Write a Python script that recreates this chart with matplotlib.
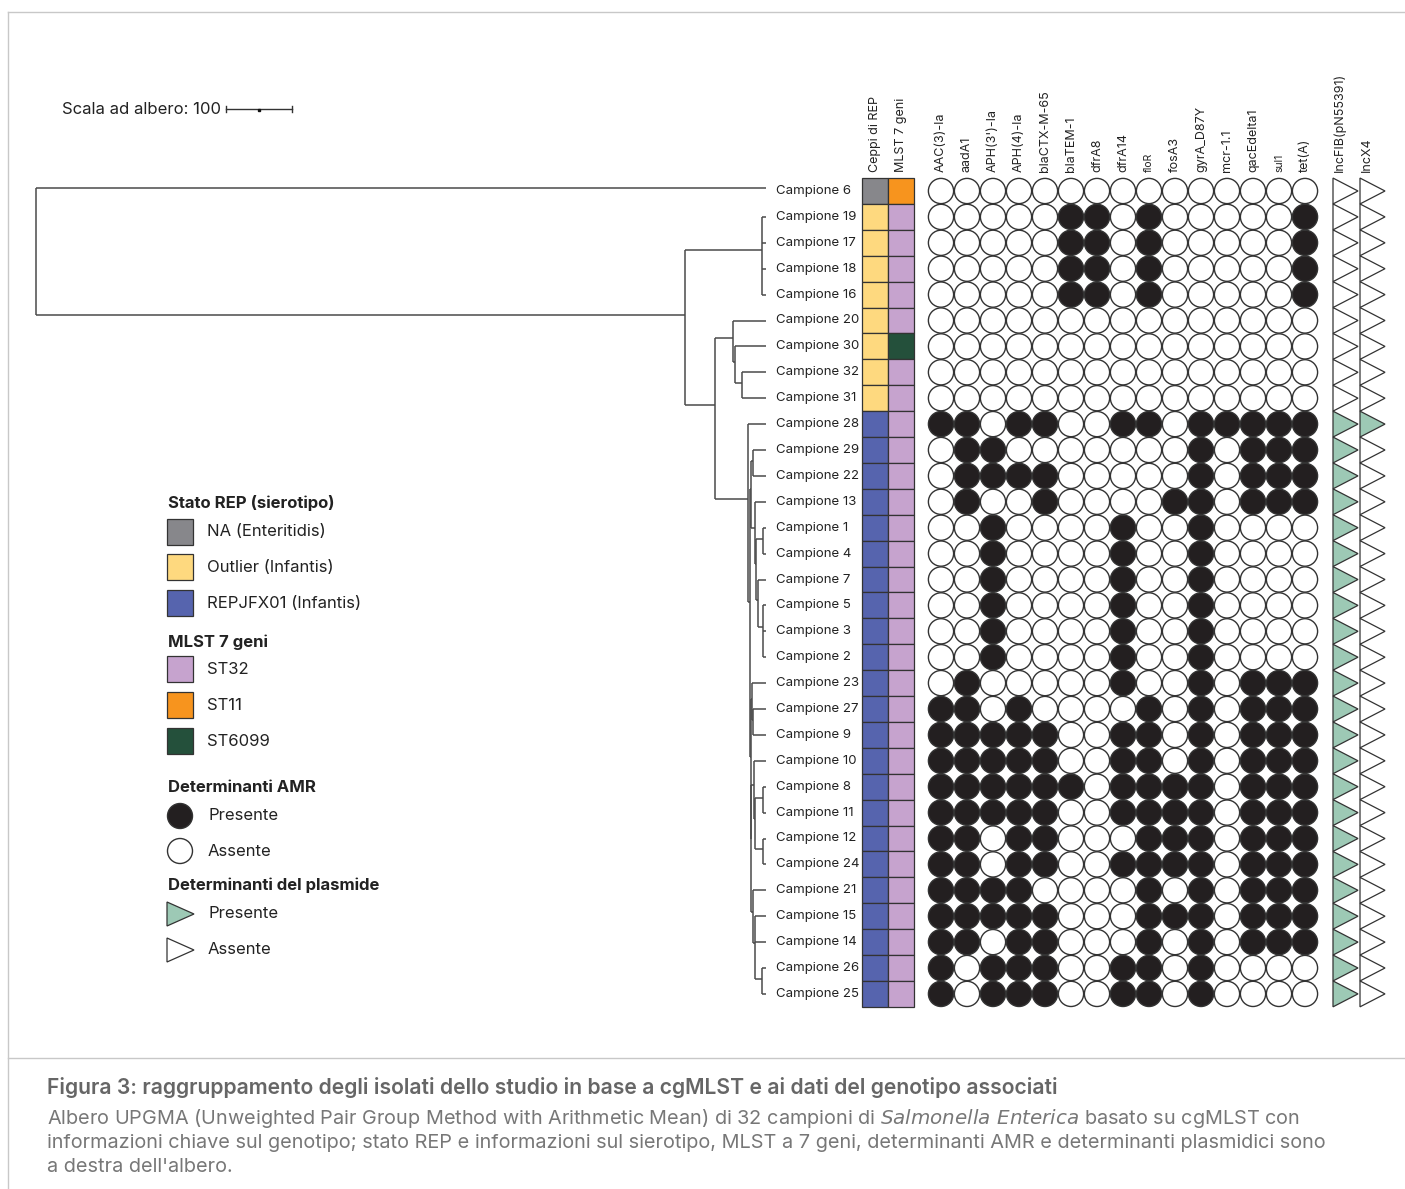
import matplotlib
matplotlib.use('Agg')
import matplotlib.pyplot as plt
from matplotlib.patches import Rectangle, Circle, Polygon

plt.rcParams['font.family'] = ['Inter', 'DejaVu Sans']

# Samples in tree order
samples = ['6', '19', '17', '18', '16', '20', '30', '32', '31', '28', '29', '22', '13',
           '1', '4', '7', '5', '3', '2', '23', '27', '9', '10', '8', '11', '12', '24',
           '21', '15', '14', '26', '25']

# REP status / serotype
rep = ['NA'] + ['Outlier'] * 8 + ['REPJFX01'] * 23
# MLST 7 genes
mlst = ['ST11', 'ST32', 'ST32', 'ST32', 'ST32', 'ST32', 'ST6099'] + ['ST32'] * 25

amr_genes = ['AAC(3)-Ia', 'aadA1', "APH(3')-Ia", 'APH(4)-Ia', 'blaCTX-M-65', 'blaTEM-1',
             'dfrA8', 'dfrA14', 'floR', 'fosA3', 'gyrA_D87Y', 'mcr-1.1', 'qacEdelta1',
             'sul1', 'tet(A)']
# 1 = present, 0 = absent (one string per sample, same order as samples)
amr = ['000000000000000',
       '000001101000001', '000001101000001', '000001101000001', '000001101000001',
       '000000000000000', '000000000000000', '000000000000000', '000000000000000',
       '110110011011111', '011000000010111', '011110000010111', '010010000110111',
       '001000010010000', '001000010010000', '001000010010000', '001000010010000',
       '001000010010000', '001000010010000',
       '010000010010111', '110100001010111', '111110011010111', '111110011010111',
       '111111011110111', '111110011110111', '110110001110111', '110110011110111',
       '111100001010111', '111110001110111', '110110001010111',
       '101110011010000', '101110011010000']

plasmids = ['IncFIB(pN55391)', 'IncX4']
incfib = [0] * 9 + [1] * 23
incx4 = [0] * 9 + [1] + [0] * 22

# UPGMA tree: [height, children...], height in tree units
tree = [1106, '6',
        [123,
         [6, '19', '17', '18', '16'],
         [77,
          [50, '20', [47, '30', [36, '32', '31']]],
          [27, '28',
           [24,
            [22, [20, '29', '22'],
             [17, '13', [15, [4, '1', '4'], [12, '7', [4, '5', '3', '2']]]]],
            [23,
             [21, '23', [19, '27', '9']],
             [22,
              [18, '10', [16, [5, '8', '11'], [5, '12', '24']]],
              [19, '21', [16, '15', '14', [6, '26', '25']]]]]]]]]]
scale_len = 100

rep_colors = {'NA': '#87878B', 'Outlier': '#FED97F', 'REPJFX01': '#5664AE'}
rep_labels = {'NA': 'NA (Enteritidis)', 'Outlier': 'Outlier (Infantis)', 'REPJFX01': 'REPJFX01 (Infantis)'}
mlst_colors = {'ST32': '#C6A3CE', 'ST11': '#F7941E', 'ST6099': '#24503B'}
dark = '#231F20'
green = '#9DC9B5'

fig = plt.figure(figsize=(14.05, 11.89), dpi=100)
ax = fig.add_axes([0, 0, 1, 1])
ax.set_xlim(0, 1405)
ax.set_ylim(1189, 0)
ax.axis('off')

# layout
row0, drow = 191, 25.9
tip_x = 766
px_unit = 0.66
col0, dcol = 941, 26


def ry(i):
    return row0 + i * drow


def tx(h):
    return tip_x - h * px_unit


# frame
fc = '#C8C8C8'
ax.plot([8, 1405], [12, 12], color=fc, lw=1)
ax.plot([8, 8], [12, 1189], color=fc, lw=1)
ax.plot([8, 1405], [1058, 1058], color=fc, lw=1)

# tree
tc = '#4a4a4a'


def draw(node):
    if isinstance(node, str):
        i = samples.index(node)
        return (ry(i) if i else ry(0) - 3), tx(0)
    h = node[0]
    pts = [draw(c) for c in node[1:]]
    x = tx(h)
    for y, cx in pts:
        ax.plot([x, cx], [y, y], color=tc, lw=1.1, solid_capstyle='butt')
    ys = [p[0] for p in pts]
    ax.plot([x, x], [min(ys), max(ys)], color=tc, lw=1.1, solid_capstyle='butt')
    # pull the node a bit towards the upper child, like the original layout
    return min(ys) + (max(ys) - min(ys)) * 0.42, x


draw(tree)

# sample labels
for i, s in enumerate(samples):
    ax.text(776, ry(i), 'Campione ' + s, fontsize=9.5, color='#222222', ha='left', va='center')

# REP and MLST strips
for i in range(len(samples)):
    ax.add_patch(Rectangle((862, ry(i) - drow / 2), 26, drow, facecolor=rep_colors[rep[i]],
                           edgecolor='#333333', lw=0.9))
    ax.add_patch(Rectangle((888, ry(i) - drow / 2), 26, drow, facecolor=mlst_colors[mlst[i]],
                           edgecolor='#333333', lw=0.9))
ax.text(875, 172, 'Ceppi di REP', rotation=90, ha='center', va='bottom', fontsize=9, color='#222222')
ax.text(901, 172, 'MLST 7 geni', rotation=90, ha='center', va='bottom', fontsize=9, color='#222222')

# AMR circles
for j, g in enumerate(amr_genes):
    x = col0 + j * dcol
    fs = 7.5 if g in ('floR', 'sul1') else 9
    ax.text(x, 172, g, rotation=90, ha='center', va='bottom', fontsize=fs, color='#222222')
    for i in range(len(samples)):
        on = amr[i][j] == '1'
        ax.add_patch(Circle((x, ry(i)), 12.6, facecolor=dark if on else 'white',
                            edgecolor='#333333', lw=1))

# plasmid triangles
for k, (name, vals) in enumerate(zip(plasmids, [incfib, incx4])):
    x0 = 1333 + k * 27
    ax.text(x0 + 7, 172, name, rotation=90, ha='center', va='bottom', fontsize=9, color='#222222')
    for i in range(len(samples)):
        y = ry(i)
        ax.add_patch(Polygon([(x0, y - drow / 2), (x0 + 25, y), (x0, y + drow / 2)], closed=True,
                             facecolor=green if vals[i] else 'white', edgecolor='#333333', lw=0.9))

# scale bar
ax.text(221, 110, 'Scala ad albero: ' + str(scale_len), fontsize=12, ha='right', va='center', color='#222222')
sx0, sx1 = 226, 226 + scale_len * px_unit
ax.plot([sx0, sx1], [109, 109], color='#333333', lw=1)
ax.plot([sx0, sx0], [106, 112], color='#333333', lw=1)
ax.plot([sx1, sx1], [106, 112], color='#333333', lw=1)
ax.plot([(sx0 + sx1) / 2], [109.5], marker='s', ms=2, color='#111111')

# legend
lx = 168
def head(y, t):
    ax.text(lx, y, t, fontsize=12, fontweight='bold', ha='left', va='center', color='#222222')

def sq(y, c, t):
    ax.add_patch(Rectangle((lx - 1, y - 13), 26, 26, facecolor=c, edgecolor='#333333', lw=0.9))
    ax.text(207, y, t, fontsize=12, ha='left', va='center', color='#222222')

head(503, 'Stato REP (sierotipo)')
for y, k in zip([532, 567, 603], ['NA', 'Outlier', 'REPJFX01']):
    sq(y, rep_colors[k], rep_labels[k])
head(642, 'MLST 7 geni')
for y, k in zip([669, 705, 741], ['ST32', 'ST11', 'ST6099']):
    sq(y, mlst_colors[k], k)
head(788, 'Determinanti AMR')
for y, c, t in [(816, dark, 'Presente'), (851, 'white', 'Assente')]:
    ax.add_patch(Circle((180, y), 12.5, facecolor=c, edgecolor='#333333', lw=1))
    ax.text(208, y, t, fontsize=12, ha='left', va='center', color='#222222')
head(885, 'Determinanti del plasmide')
for y, c, t in [(914, green, 'Presente'), (950, 'white', 'Assente')]:
    ax.add_patch(Polygon([(167, y - 12), (194, y), (167, y + 12)], closed=True,
                         facecolor=c, edgecolor='#333333', lw=0.9))
    ax.text(208, y, t, fontsize=12, ha='left', va='center', color='#222222')

# caption
ax.text(47, 1088, 'Figura 3: raggruppamento degli isolati dello studio in base a cgMLST e ai dati del genotipo associati',
        fontsize=15.2, fontweight='semibold', ha='left', va='center', color='#666666')
cap = ['Albero UPGMA (Unweighted Pair Group Method with Arithmetic Mean) di 32 campioni di $\\it{Salmonella\\ Enterica}$ basato su cgMLST con',
       'informazioni chiave sul genotipo; stato REP e informazioni sul sierotipo, MLST a 7 geni, determinanti AMR e determinanti plasmidici sono',
       "a destra dell'albero."]
for k, line in enumerate(cap):
    ax.text(47, 1119 + k * 24, line, fontsize=14.3, ha='left', va='center', color='#777777')

fig.savefig('out.png', dpi=100)
